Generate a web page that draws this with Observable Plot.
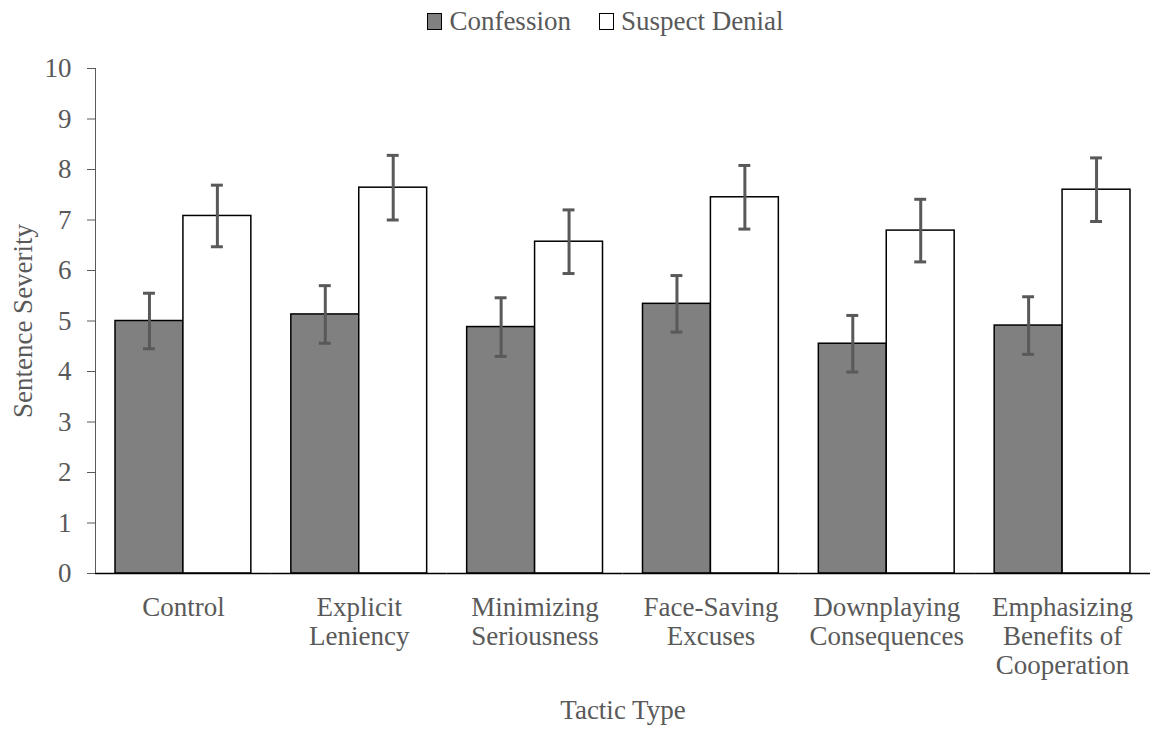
<!DOCTYPE html>
<html>
<head>
<meta charset="utf-8">
<script src="https://cdn.jsdelivr.net/npm/d3@7"></script>
<script src="https://cdn.jsdelivr.net/npm/@observablehq/plot@0.6"></script>
<style>
  html, body { margin: 0; padding: 0; background: white; }
  #legend {
    height: 42px; display: flex; align-items: center; justify-content: center;
    padding-left: 52px; box-sizing: border-box;
    font-family: "Liberation Serif", "Times New Roman", serif; font-size: 27px; color: #595959;
  }
  .item { display: flex; align-items: center; margin: 0 14px; }
  .sw { width: 13px; height: 15px; border: 1.5px solid #000; margin-right: 7px; }
  #chart svg g[aria-label="y-axis tick"], #chart svg g[aria-label="y-axis line"] { stroke: #000; }
</style>
</head>
<body>
<div id="legend"></div>
<div id="chart"></div>
<script>
const categories = ["Control", "Explicit Leniency", "Minimizing Seriousness", "Face-Saving Excuses", "Downplaying Consequences", "Emphasizing Benefits of Cooperation"];
const tickLabels = ["Control", "Explicit\nLeniency", "Minimizing\nSeriousness", "Face-Saving\nExcuses", "Downplaying\nConsequences", "Emphasizing\nBenefits of\nCooperation"];
const series = ["Confession", "Suspect Denial"];
const seriesFill = ["#808080", "#ffffff"];
const confession = [5.00, 5.13, 4.88, 5.34, 4.55, 4.91];
const confessionErr = [0.55, 0.57, 0.58, 0.56, 0.56, 0.57];
const denial = [7.08, 7.64, 6.57, 7.45, 6.79, 7.60];
const denialErr = [0.61, 0.64, 0.63, 0.63, 0.62, 0.63];
const yTicks = [0, 1, 2, 3, 4, 5, 6, 7, 8, 9, 10];

const rows = [];
categories.forEach((c, i) => {
  rows.push({cat: c, s: series[0], v: confession[i], lo: confession[i] - confessionErr[i], hi: confession[i] + confessionErr[i]});
  rows.push({cat: c, s: series[1], v: denial[i], lo: denial[i] - denialErr[i], hi: denial[i] + denialErr[i]});
});

const legend = document.getElementById("legend");
series.forEach((s, i) => {
  const it = document.createElement("div"); it.className = "item";
  const sw = document.createElement("div"); sw.className = "sw"; sw.style.background = seriesFill[i];
  const t = document.createElement("span"); t.textContent = s;
  it.appendChild(sw); it.appendChild(t); legend.appendChild(it);
});

const chart = Plot.plot({
  width: 1159, height: 687,
  marginLeft: 95, marginRight: 9, marginTop: 26, marginBottom: 156,
  style: {fontFamily: "Liberation Serif, Times New Roman, serif", fontSize: "27px", color: "#595959", background: "white", overflow: "visible"},
  fx: {domain: categories, padding: 0, round: false, axis: null},
  x: {domain: series, padding: 0, round: false, insetLeft: 20, insetRight: 20, axis: null},
  y: {domain: [0, 10], ticks: yTicks, tickSize: 8, tickPadding: 16, line: true, label: "Sentence Severity", labelAnchor: "center", labelOffset: 83, labelArrow: "none"},
  color: {domain: series, range: seriesFill},
  marks: [
    Plot.axisFx({anchor: "bottom", tickSize: 0, tickPadding: 22, lineHeight: 1.07,
      tickFormat: d => tickLabels[categories.indexOf(d)],
      label: "Tactic Type", labelAnchor: "center", labelOffset: 145, labelArrow: "none"}),
    Plot.barY(rows, {fx: "cat", x: "s", y: "v", fill: "s", stroke: "#000", strokeWidth: 1.5}),
    Plot.ruleY([0], {stroke: "#000", strokeWidth: 1.5}),
    Plot.ruleX(rows, {fx: "cat", x: "s", y1: "lo", y2: "hi", stroke: "#595959", strokeWidth: 3}),
    Plot.tickY(rows, {fx: "cat", x: "s", y: "hi", stroke: "#595959", strokeWidth: 3, insetLeft: 28, insetRight: 28}),
    Plot.tickY(rows, {fx: "cat", x: "s", y: "lo", stroke: "#595959", strokeWidth: 3, insetLeft: 28, insetRight: 28})
  ]
});
document.getElementById("chart").appendChild(chart);
</script>
</body>
</html>
